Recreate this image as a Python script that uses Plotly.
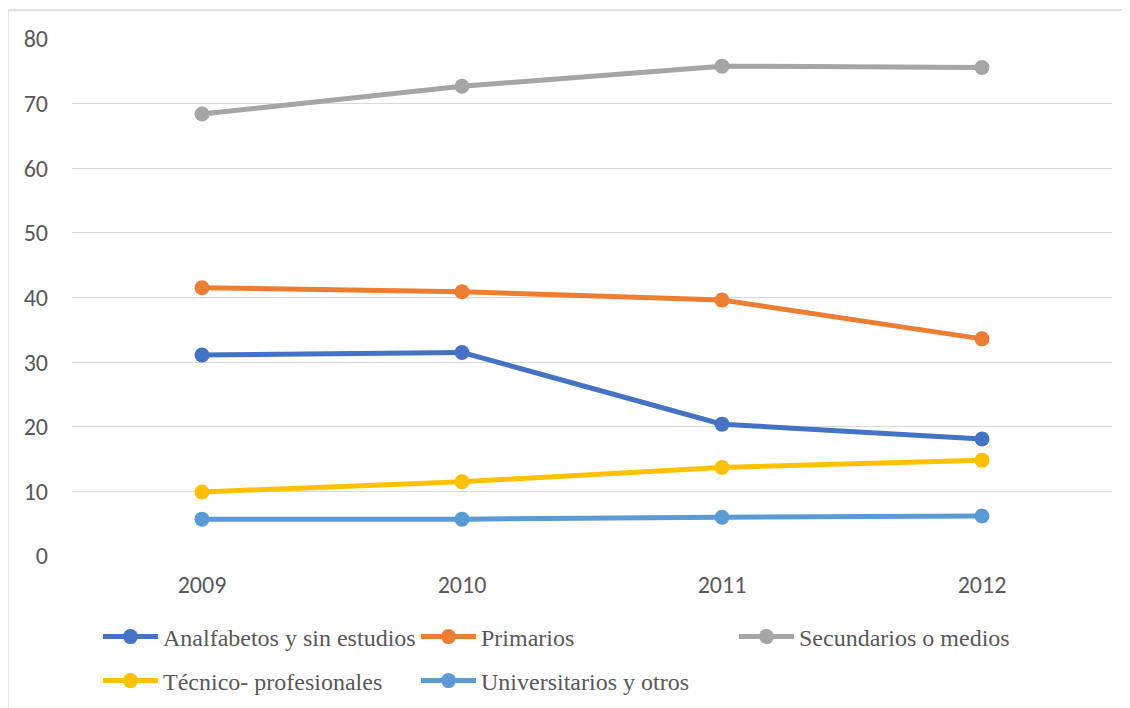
import plotly.graph_objects as go

years = ["2009", "2010", "2011", "2012"]
analfabetos = [31.1, 31.5, 20.4, 18.1]
primarios = [41.5, 40.9, 39.6, 33.6]
secundarios = [68.4, 72.7, 75.8, 75.6]
tecnico = [9.9, 11.5, 13.7, 14.8]
universitarios = [5.7, 5.7, 6.0, 6.2]

series = [
    ("Analfabetos y sin estudios", analfabetos, "#4472C4", "legend"),
    ("Primarios", primarios, "#ED7D31", "legend"),
    ("Secundarios o medios", secundarios, "#A5A5A5", "legend"),
    ("Técnico- profesionales", tecnico, "#FFC000", "legend2"),
    ("Universitarios y otros", universitarios, "#5B9BD5", "legend2"),
]

# page body has an 8px default margin; figure is placed at (8, 8)
OFF = 8
W, H = 1130 - OFF, 708 - OFF
ml, mt = 72 - OFF, 39 - OFF
mb = H - (556 - OFF)
mr = W - (1112 - OFF)

fig = go.Figure()
for name, vals, color, leg in series:
    fig.add_trace(go.Scatter(
        x=years, y=vals, name=name, mode="lines+markers",
        line=dict(color=color, width=5),
        marker=dict(color=color, size=15),
        legend=leg,
    ))

axis_font = dict(family="Carlito, Calibri, 'Open Sans', sans-serif", size=24, color="#595959")
leg_font = dict(family="'Liberation Serif', 'Times New Roman', serif", size=24, color="#595959")

pw = W - ml - mr
ph = H - mt - mb

def px_x(p):
    return (p - OFF - ml) / pw

def px_y(p):
    return (H - mb - (p - OFF)) / ph

fig.update_layout(
    width=W, height=H,
    margin=dict(l=ml, r=mr, t=mt, b=mb),
    paper_bgcolor="white", plot_bgcolor="white",
    xaxis=dict(type="category", range=[-0.5, 3.5], showgrid=False, zeroline=False,
               showline=False, ticks="", tickfont=axis_font, ticklabelstandoff=12),
    yaxis=dict(range=[0, 80], dtick=10, showgrid=True, gridcolor="#D9D9D9", gridwidth=1.4,
               zeroline=False, showline=False, ticks="", tickfont=axis_font,
               ticklabelstandoff=23),
    legend=dict(orientation="h", xref="container", yref="container",
                x=(98 - OFF) / W, y=1 - (637 - OFF) / H, xanchor="left", yanchor="middle",
                font=leg_font, itemwidth=55, entrywidth=248, entrywidthmode="pixels",
                bgcolor="rgba(0,0,0,0)", traceorder="normal"),
    legend2=dict(orientation="h", xref="container", yref="container",
                 x=(98 - OFF) / W, y=1 - (681 - OFF) / H, xanchor="left", yanchor="middle",
                 font=leg_font, itemwidth=55, entrywidth=248, entrywidthmode="pixels",
                 bgcolor="rgba(0,0,0,0)", traceorder="normal"),
    shapes=[dict(type="rect", xref="paper", yref="paper",
                 x0=px_x(8), x1=px_x(1130 + 20), y0=px_y(708 + 20), y1=px_y(10),
                 line=dict(color="#D9D9D9", width=1.3), fillcolor="rgba(0,0,0,0)",
                 layer="below")],
)

fig.write_html("out.html")
